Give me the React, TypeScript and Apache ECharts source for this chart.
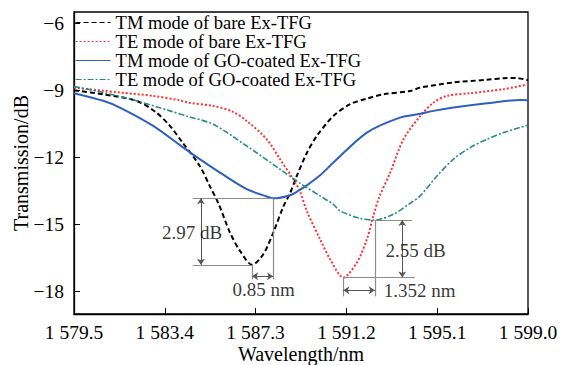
import React, { useEffect, useRef } from "react";
import * as echarts from "echarts";

const FONT = '"Liberation Serif", "Times New Roman", serif';

const seriesNames = [
  "TM mode of bare Ex-TFG",
  "TE mode of bare Ex-TFG",
  "TM mode of GO-coated Ex-TFG",
  "TE mode of GO-coated Ex-TFG",
];

const tmBare: [number, number][] = [
  [1579.5, -9.0], [1580.75, -9.18], [1582.18, -9.47], [1583.04, -10.0], [1583.62, -10.59],
  [1584.1, -11.25], [1584.9, -12.38], [1585.34, -13.3], [1585.7, -14.05], [1586.2, -15.36],
  [1586.63, -16.18], [1587.15, -16.8], [1587.63, -16.33], [1588.06, -15.36], [1588.49, -14.2],
  [1588.78, -13.6], [1589.07, -12.83], [1589.5, -11.8], [1589.93, -11.04], [1590.64, -10.15],
  [1591.36, -9.62], [1592.08, -9.37], [1592.79, -9.18], [1593.94, -9.03], [1594.37, -8.88],
  [1595.8, -8.65], [1597.24, -8.53], [1597.95, -8.46], [1598.5, -8.45], [1599.0, -8.55],
];

const teBare: [number, number][] = [
  [1579.5, -8.88], [1580.75, -9.02], [1581.47, -9.1], [1582.9, -9.25], [1584.05, -9.45],
  [1584.4, -9.55], [1585.48, -9.7], [1586.3, -9.95], [1586.92, -10.37], [1587.78, -11.19],
  [1588.35, -12.08], [1588.92, -12.98], [1589.2, -13.5], [1589.5, -14.4], [1590.07, -15.66],
  [1590.5, -16.55], [1591.07, -17.37], [1591.65, -16.7], [1592.08, -15.66], [1592.36, -14.6],
  [1592.6, -13.8], [1593.08, -12.68], [1593.65, -11.19], [1594.37, -10.15], [1594.94, -9.55],
  [1595.52, -9.25], [1596.52, -9.13], [1597.95, -8.95], [1599.0, -8.73],
];

const tmGO: [number, number][] = [
  [1579.5, -9.13], [1580.75, -9.47], [1581.47, -9.77], [1582.9, -10.59], [1584.05, -11.45],
  [1584.9, -12.08], [1585.77, -12.68], [1586.92, -13.42], [1587.78, -13.75], [1588.05, -13.83],
  [1588.78, -13.69], [1589.2, -13.45], [1589.5, -13.25], [1590.07, -12.8], [1590.64, -12.23],
  [1592.08, -10.89], [1593.5, -10.22], [1594.37, -10.05], [1594.94, -9.92], [1595.8, -9.77],
  [1597.24, -9.58], [1598.67, -9.43], [1599.0, -9.44],
];

const teGO: [number, number][] = [
  [1579.5, -8.83], [1580.75, -9.1], [1582.18, -9.47], [1583.62, -9.92], [1584.4, -10.17],
  [1585.48, -10.52], [1586.92, -11.49], [1588.35, -12.53], [1589.2, -13.15], [1589.5, -13.35],
  [1590.07, -13.72], [1590.64, -14.1], [1590.93, -14.39], [1591.79, -14.73], [1592.42, -14.8],
  [1593.22, -14.54], [1593.94, -14.05], [1594.37, -13.72], [1595.09, -12.83], [1595.8, -12.08],
  [1596.52, -11.56], [1597.24, -11.19], [1597.95, -10.89], [1599.0, -10.56],
];

const xTicks = [1579.5, 1583.4, 1587.3, 1591.2, 1595.1, 1599.0];
const yTicks = [-18, -15, -12, -9, -6];

// annotation guide lines (data coordinates)
const guideLines: [number, number, number, number][] = [
  [1584.6, -13.83, 1588.05, -13.83],
  [1584.6, -16.8, 1587.15, -16.8],
  [1588.05, -13.83, 1588.05, -17.45],
  [1587.15, -16.8, 1587.15, -17.45],
  [1592.42, -14.8, 1594.02, -14.8],
  [1591.07, -17.37, 1594.15, -17.37],
  [1592.42, -14.8, 1592.42, -18.21],
  [1591.07, -17.37, 1591.07, -18.21],
];
const arrowLines: [number, number, number, number][] = [
  [1584.95, -13.83, 1584.95, -16.8],
  [1587.15, -17.31, 1588.05, -17.31],
  [1593.6, -14.8, 1593.6, -17.37],
  [1591.07, -17.94, 1592.42, -17.94],
];
const annoTexts = ["2.97 dB", "0.85 nm", "2.55 dB", "1.352 nm"];
const annoPos: [number, number][] = [
  [1584.57, -15.35],
  [1587.64, -17.92],
  [1594.17, -16.15],
  [1594.35, -17.94],
];

const colors = ["#000000", "#ff3030", "#2f5fbf", "#2a8a86"];
const fmtX = (v: number) => {
  const s = v.toFixed(1);
  return s.slice(0, 1) + " " + s.slice(1);
};
const fmtY = (v: number) => (v < 0 ? "\u2212" + Math.abs(v) : String(v));

export default function App() {
  const ref = useRef<HTMLDivElement>(null);
  useEffect(() => {
    if (!ref.current) return;
    const chart = echarts.init(ref.current, undefined, { renderer: "svg" });
    const lineStyles: any[] = [
      { color: colors[0], width: 2, type: [5, 3] },
      { color: colors[1], width: 2, type: [2, 2] },
      { color: colors[2], width: 2, type: "solid" },
      { color: colors[3], width: 1.6, type: [6, 2, 2, 2] },
    ];
    const datas = [tmBare, teBare, tmGO, teGO];
    const mainSeries = datas.map((d, i) => ({
      name: seriesNames[i],
      type: "line",
      data: d,
      smooth: 0.3,
      showSymbol: false,
      symbol: "none",
      lineStyle: lineStyles[i],
      itemStyle: { color: colors[i] },
      z: 3,
      silent: true,
    }));
    const mk = (arr: [number, number, number, number][]) =>
      arr.map(([x1, y1, x2, y2]) => [{ coord: [x1, y1] }, { coord: [x2, y2] }]);
    chart.setOption({
      animation: false,
      grid: {
        left: 74,
        right: 36,
        top: 12,
        bottom: 51,
        show: true,
        borderColor: "#000",
        borderWidth: 1.3,
        backgroundColor: "transparent",
        outerBoundsMode: "none",
        containLabel: false,
      },
      legend: {
        data: seriesNames,
        orient: "vertical",
        left: 75,
        top: 13,
        itemWidth: 35,
        itemHeight: 18.5,
        itemGap: 0,
        padding: 0,
        itemStyle: { opacity: 0, borderWidth: 0 },
        lineStyle: { width: 1.2 },
        textStyle: { fontFamily: FONT, fontSize: 18.5, color: "#000", lineHeight: 18.5 },
      },
      xAxis: {
        type: "value",
        min: 1579.5,
        max: 1599.0,
        interval: 3.9,
        name: "Wavelength/nm",
        nameLocation: "middle",
        nameGap: 30,
        nameMoveOverlap: false,
        nameTextStyle: { fontFamily: FONT, fontSize: 20, color: "#000", verticalAlign: "top" },
        axisLine: { show: true, lineStyle: { color: "#000", width: 1.3 } },
        axisTick: { show: true, inside: true, length: 6, customValues: xTicks, lineStyle: { color: "#000" } },
        axisLabel: {
          customValues: xTicks,
          formatter: (v: number) => fmtX(v),
          fontFamily: FONT,
          fontSize: 19.5,
          color: "#000",
          margin: 8,
        },
        splitLine: { show: false },
      },
      yAxis: {
        type: "value",
        min: -19,
        max: -5.5,
        name: "Transmission/dB",
        nameLocation: "middle",
        nameGap: 43,
        nameMoveOverlap: false,
        nameTextStyle: { fontFamily: FONT, fontSize: 20, color: "#000" },
        axisLine: { show: true, lineStyle: { color: "#000", width: 1.3 } },
        axisTick: { show: true, inside: true, length: 6, customValues: yTicks, lineStyle: { color: "#000" } },
        axisLabel: {
          customValues: yTicks,
          formatter: (v: number) => fmtY(v),
          fontFamily: FONT,
          fontSize: 19.5,
          color: "#000",
          margin: 10,
        },
        splitLine: { show: false },
      },
      series: [
        ...mainSeries,
        {
          name: "guides",
          type: "scatter",
          data: annoPos.map((p, i) => ({ value: p, name: annoTexts[i] })),
          symbolSize: 0,
          silent: true,
          z: 5,
          label: {
            show: true,
            position: "inside",
            formatter: "{b}",
            fontFamily: FONT,
            fontSize: 19,
            color: "#000",
          },
          markLine: {
            silent: true,
            symbol: ["none", "none"],
            label: { show: false },
            lineStyle: { color: "#8c8c8c", width: 1.2, type: "solid" },
            emphasis: { disabled: true },
            animation: false,
            data: mk(guideLines),
          },
        },
        {
          name: "arrows",
          type: "line",
          data: [],
          silent: true,
          z: 5,
          markLine: {
            silent: true,
            symbol: ["arrow", "arrow"],
            symbolSize: 6,
            label: { show: false },
            lineStyle: { color: "#555", width: 1, type: "solid" },
            itemStyle: { color: "#333" },
            emphasis: { disabled: true },
            animation: false,
            data: mk(arrowLines),
          },
        },
      ],
    });
    return () => chart.dispose();
  }, []);
  return <div ref={ref} style={{ width: 564, height: 365, position: "absolute", left: 0, top: 0 }} />;
}
